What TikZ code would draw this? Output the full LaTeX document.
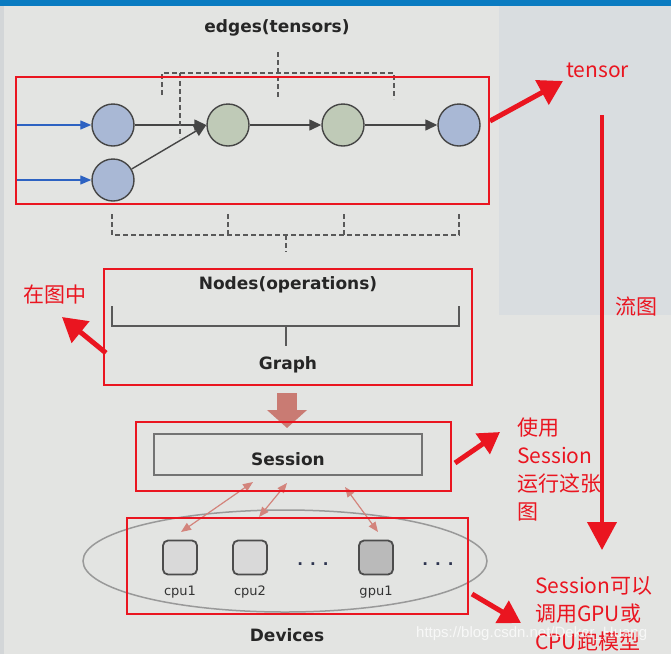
\documentclass[tikz,border=0pt]{standalone}
\usepackage{fontspec}
\setmainfont{DejaVu Sans}
\newfontfamily\cjk{Noto Sans CJK SC}
\newfontfamily\wmfont{Liberation Sans}
\usetikzlibrary{arrows.meta,shapes.geometric,positioning}

\definecolor{bggray}{HTML}{E3E4E2}
\definecolor{panelgray}{HTML}{D9DDE0}
\definecolor{stripgray}{HTML}{D3D6D8}
\definecolor{topbar}{HTML}{0A7BC1}
\definecolor{markred}{HTML}{EA1520}
\definecolor{opblue}{HTML}{A9B8D5}
\definecolor{opgreen}{HTML}{BFCAB7}
\definecolor{edgegray}{HTML}{454545}
\definecolor{inblue}{HTML}{2D62C2}
\definecolor{runsalmon}{HTML}{C97B73}
\definecolor{linkpink}{HTML}{D3847C}
\definecolor{dotnavy}{HTML}{2E3550}

\tikzset{
  tensornode/.style={circle, draw=edgegray, line width=1.4pt, minimum size=42pt, inner sep=0pt},
  flow/.style={edgegray, line width=1.4pt, -{Triangle[length=12pt,width=11pt]}},
  feed/.style={inblue, line width=1.2pt, -{Triangle[length=11pt,width=9pt]}},
  tensorbrace/.style={black!65, line width=1.3pt, dash pattern=on 5pt off 3pt},
  redbox/.style={draw=markred, line width=2pt},
  note/.style={markred, line width=5pt, -{Triangle[length=24pt,width=27pt]}},
  boldlabel/.style={font=\fontsize{17}{19}\selectfont\bfseries, text=black!85, inner sep=0pt},
  devicebox/.style={rounded corners=5pt, draw=black!70, line width=1.8pt, minimum size=34pt, inner sep=0pt},
  devlabel/.style={font=\fontsize{13}{13}\selectfont, text=black!80, inner sep=0pt},
  link/.style={linkpink, line width=1.2pt, {Triangle[length=10pt,width=8pt]}-{Triangle[length=10pt,width=8pt]}},
  remark/.style={text=markred, font=\cjk\fontsize{21}{28}\selectfont, align=left, inner sep=0pt},
}

\begin{document}
\begin{tikzpicture}[x=1pt, y=-1pt]
\useasboundingbox (0,0) rectangle (671,654);

% background
\fill[bggray] (0,0) rectangle (671,654);
\fill[panelgray] (499,6) rectangle (671,315);
\fill[stripgray] (0,6) rectangle (4,654);
\fill[topbar] (0,0) rectangle (671,6);

% edges(tensors)
\node[boldlabel] (edgestitle) at (277,28) {edges(tensors)};

\begin{scope}
  \node[tensornode, fill=opblue] (in1) at (113,125) {};
  \node[tensornode, fill=opblue] (in2) at (113,180) {};
  \node[tensornode, fill=opgreen] (op1) at (228,125) {};
  \node[tensornode, fill=opgreen] (op2) at (343,125) {};
  \node[tensornode, fill=opblue] (out) at (459,125) {};

  \coordinate (src1) at (17,125);
  \coordinate (src2) at (17,180);
  \draw[feed] (src1) -- (in1);
  \draw[feed] (src2) -- (in2);

  \draw[flow] (in1) -- (op1);
  \draw[flow] (in2) -- (op1.west);
  \draw[flow] (op1) -- (op2);
  \draw[flow] (op2) -- (out);
\end{scope}

\begin{scope}[tensorbrace]
  \draw (162,95) -- (162,73) -- (394,73) -- (394,99);
  \draw (278,52) -- (278,99);
  \draw[line width=2.4pt] (180,73) -- (180,137);

  \draw (112,214) -- (112,235) -- (459,235) -- (459,214);
  \draw (228,214) -- (228,235);
  \draw (344,214) -- (344,235);
  \draw (286,235) -- (286,252);
\end{scope}

% graph
\node[boldlabel] (nodestitle) at (288,285) {Nodes(operations)};
\draw[black!65, line width=1.6pt] (112,306) -- (112,326) -- (459,326) -- (459,306);
\draw[black!65, line width=1.6pt] (286,326) -- (286,346);
\node[boldlabel] (graphtitle) at (288,365) {Graph};

% run
\coordinate (runtop) at (287,393);
\coordinate (runtip) at (287,428);
\draw[runsalmon, line width=20pt, -{Triangle[length=18pt,width=39pt]}] (runtop) -- (runtip);

\node[draw=black!55, line width=2pt, minimum width=268pt, minimum height=41pt] (session) at (288,454.5) {};
\node[boldlabel] (sessiontitle) at (288,459.5) {Session};

% devices
\node[ellipse, draw=black!40, line width=1.5pt, minimum width=404pt, minimum height=102pt] (devices) at (285,561) {};
\node[devicebox, fill=black!15] (cpu1) at (180,557.5) {};
\node[devicebox, fill=black!15] (cpu2) at (250,557.5) {};
\node[devicebox, fill=black!27] (gpu1) at (376,557.5) {};
\node[devlabel, below=10pt of cpu1] (cpu1lbl) {cpu1};
\node[devlabel, below=10pt of cpu2] (cpu2lbl) {cpu2};
\node[devlabel, below=10pt of gpu1] (gpu1lbl) {gpu1};
\node[text=dotnavy, font=\fontsize{15}{15}\selectfont\bfseries, anchor=base, inner sep=0pt] (more1) at (313,565) {.\hspace{7pt}.\hspace{7pt}.};
\node[text=dotnavy, font=\fontsize{15}{15}\selectfont\bfseries, anchor=base, inner sep=0pt] (more2) at (438,565) {.\hspace{7pt}.\hspace{7pt}.};
\node[boldlabel] (devicestitle) at (287,635) {Devices};

\coordinate (s1) at (253,482);
\coordinate (s2) at (287,483);
\coordinate (s3) at (345,487);
\coordinate (d1) at (181,532);
\coordinate (d2) at (259,517);
\coordinate (d3) at (378,532);
\draw[link] (s1) -- (d1);
\draw[link] (s2) -- (d2);
\draw[link] (s3) -- (d3);

% red marks
\draw[redbox] (16,77) rectangle (489,204);
\draw[redbox] (104,269) rectangle (472,385);
\draw[redbox] (136,422) rectangle (451,491);
\draw[redbox] (127,518) rectangle (468,614);

\node[remark, anchor=west] (tensornote) at (566,70) {tensor};
\node[remark, anchor=west] (flownote) at (615,307) {流图};
\node[remark, anchor=west] (innote) at (23,295) {在图中};
\node[remark, anchor=north west] (runnote) at (517,418) {使用\\Session\\运行这张\\图};
\node[remark, anchor=north west] (devnote) at (535,576) {Session可以\\调用GPU或\\CPU跑模型};

\coordinate (m1a) at (490,121);
\coordinate (m1b) at (563,81);
\coordinate (m2a) at (106,353);
\coordinate (m2b) at (62,317);
\coordinate (m3a) at (455,463);
\coordinate (m3b) at (500,432);
\coordinate (m4a) at (472,594);
\coordinate (m4b) at (521,623);
\coordinate (flowtop) at (602,115);
\coordinate (flowend) at (602,550);
\draw[note] (m1a) -- (m1b);
\draw[note] (m2a) -- (m2b);
\draw[note, -{Triangle[length=21pt,width=24pt]}] (m3a) -- (m3b);
\draw[note, -{Triangle[length=22pt,width=25pt]}] (m4a) -- (m4b);
\draw[note, line width=4pt, -{Triangle[length=28pt,width=29pt]}] (flowtop) -- (flowend);

\node[text=white, opacity=0.75, font=\wmfont\fontsize{15}{15}\selectfont, anchor=west, inner sep=0pt] (watermark) at (416,634) {https://blog.csdn.net/Deker\_Huang};
\end{tikzpicture}
\end{document}
